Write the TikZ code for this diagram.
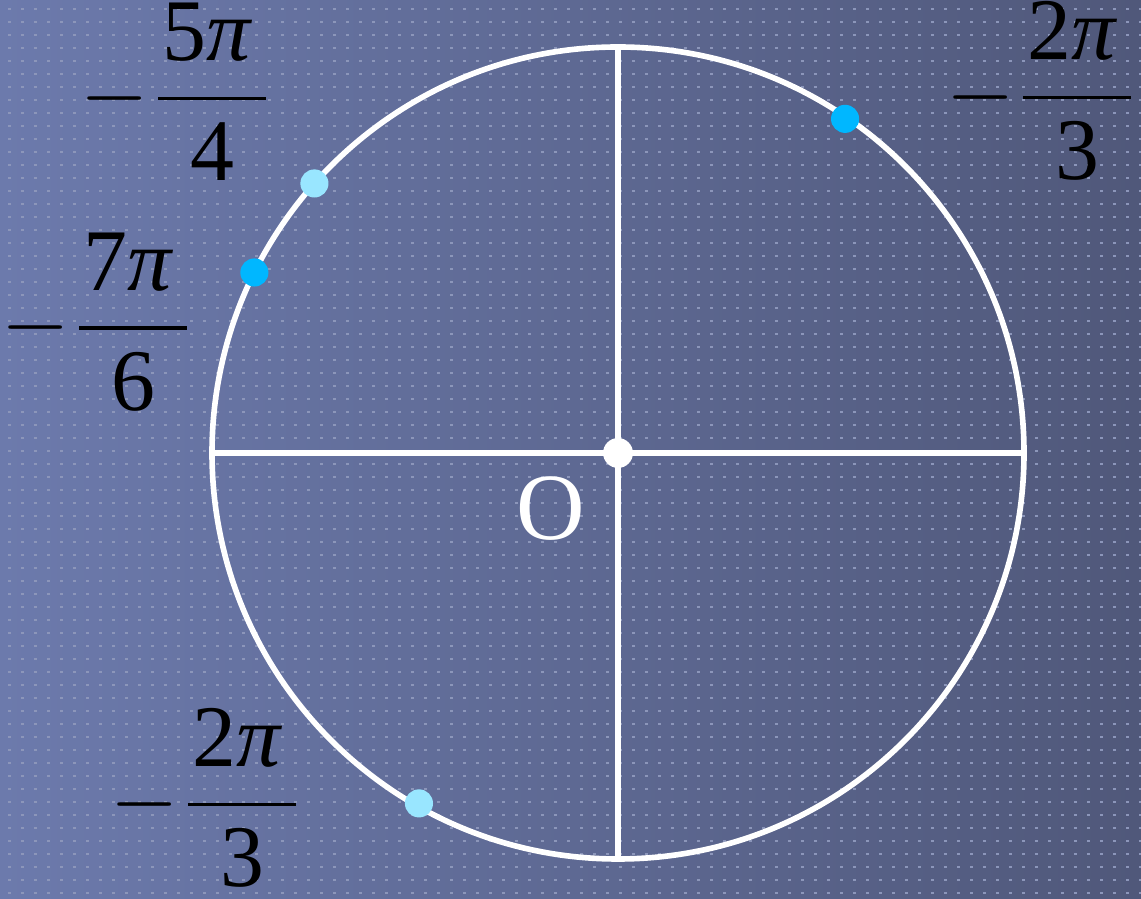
\documentclass[tikz,border=0pt]{standalone}
\usepackage{amsmath}
\usepackage{mathptmx}
\usepackage[no-math]{fontspec}
\setmainfont{Liberation Serif}
\usetikzlibrary{calc}
\definecolor{bgLight}{RGB}{108,122,172}
\definecolor{bgDark}{RGB}{80,88,122}
\definecolor{dotGrey}{RGB}{140,150,186}
\definecolor{paleBlue}{RGB}{153,230,255}
\definecolor{deepBlue}{RGB}{0,183,255}
\newcommand{\fracpi}[2]{$-\hspace{0.08em}\dfrac{\text{\hspace{0.05em}#1\textit{π}\hspace{0.15em}}}{\text{#2}}$}
\tikzset{
    unit circle/.style={white, line width=3.2pt},
    axis line/.style={white, line width=2.9pt},
    point/.style={circle, fill=#1, inner sep=0pt, minimum size=16pt},
    angle label/.style={black, inner sep=0pt, font=\fontsize{50}{54}\selectfont},
    origin label/.style={white, inner sep=0pt, font=\fontsize{54}{58}\selectfont}
}

\begin{document}
\begin{tikzpicture}[x=0.02cm, y=0.02cm]
                \useasboundingbox (0,0) rectangle (1141,898);
                % background with dot grid
                \shade[left color=bgLight, right color=bgDark] (0,0) rectangle (1141,898);
                \foreach \r in {0,...,68}
                    \draw[dotGrey, line width=1.6pt, dash pattern=on 1.6pt off 5.8pt]
                        (8,889-13*\r) -- (1141,889-13*\r);
                \coordinate (O) at (618,445);
                \coordinate (W) at ($(O)+(180:406)$);
                \coordinate (E) at ($(O)+(0:406)$);
                \coordinate (N) at ($(O)+(90:403)$);
                \coordinate (S) at ($(O)+(270:403)$);
                \draw[unit circle] (O) circle[radius=406];
                \draw[axis line] (W) -- (E);
                \draw[axis line] (N) -- (S);
                % points on the circle
                \node[point=paleBlue] (P1) at ($(O)+(138.4:406)$) {};
                \node[point=deepBlue] (P2) at ($(O)+(153.6:406)$) {};
                \node[point=deepBlue] (P3) at ($(O)+(55.8:404)$) {};
                \node[point=paleBlue] (P4) at ($(O)+(-119.6:403)$) {};
                \node[point=white, minimum size=17pt] (Odot) at (O) {};
                \node[origin label] (Olabel) at (551,389) {O};
                % angle labels
                \node[angle label] (L1) at (174.5,806) {\fracpi{5}{4}};
                \node[angle label] (L2) at (1039.5,807) {\fracpi{2}{3}};
                \node[angle label] (L3) at (95.5,576) {\fracpi{7}{6}};
                \node[angle label] (L4) at (204.5,100) {\fracpi{2}{3}};
            \end{tikzpicture}
\end{document}
